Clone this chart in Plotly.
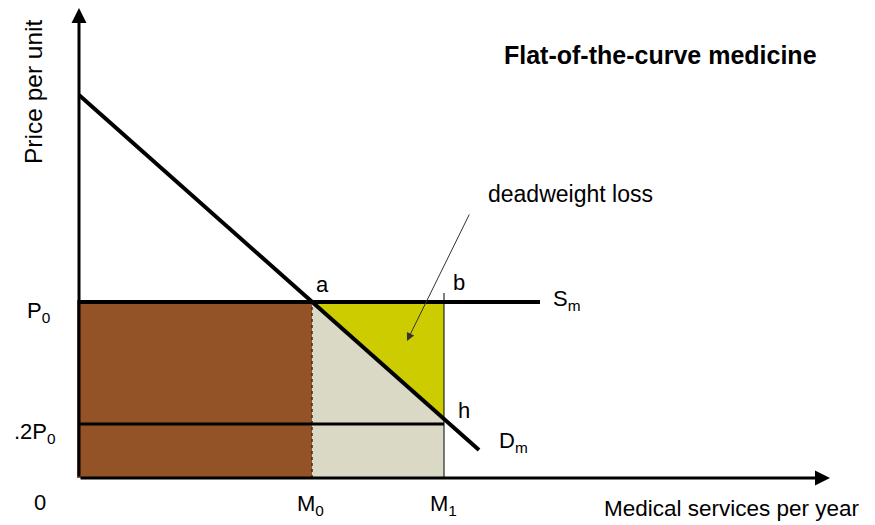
import plotly.graph_objects as go

# quantities / prices (arbitrary units, origin at the axes)
m0 = 233          # M0
m1 = 365          # M1
p0 = 176          # P0 (supply price)
p_low = 54        # .2P0
supply_end = 461

demand_x = [0, 400]
demand_y = [383, 28]

brown_x = [-2, m0, m0, -2]
brown_y = [0, 0, 178, 178]
beige_x = [m0, m1, m1, m0]
beige_y = [0, 0, p0, p0]
dwl_x = [m0, m1, m1]          # a, b, h
dwl_y = [p0, p0, 59]

x_axis_end = 751
y_axis_end = 470

FONT = "Liberation Sans, Arial, sans-serif"

fig = go.Figure()

def poly(xs, ys, color):
    fig.add_trace(go.Scatter(x=xs, y=ys, fill="toself", fillcolor=color,
                             mode="lines", line=dict(width=0), hoverinfo="skip"))

def seg(xs, ys, width, color="black", dash=None):
    fig.add_trace(go.Scatter(x=xs, y=ys, mode="lines", hoverinfo="skip",
                             line=dict(width=width, color=color, dash=dash)))

poly(brown_x, brown_y, "#945326")
poly(beige_x, beige_y, "#D9D9C6")
poly(dwl_x, dwl_y, "#CCCC00")

seg([m0, m0], [0, 178], 1.5, "#4a2a10", "dot")
seg([m1, m1], [0, 185], 1)
seg([0, m1], [p_low, p_low], 3)
seg([0, supply_end], [p0, p0], 4)
seg(demand_x, demand_y, 4)

# axes with arrow heads
for x, y in [(x_axis_end, 0), (0, y_axis_end)]:
    fig.add_annotation(x=x, y=y, ax=0, ay=0, axref="x", ayref="y", xref="x", yref="y",
                       showarrow=True, arrowhead=2, arrowsize=1, arrowwidth=3,
                       arrowcolor="black", text="")

# deadweight loss pointer
fig.add_annotation(x=328, y=137, ax=391, ay=265, axref="x", ayref="y",
                   showarrow=True, arrowhead=2, arrowsize=1.6, arrowwidth=1,
                   arrowcolor="#333333", text="")

labels = [
    ("a", 243, 194),
    ("b", 380, 196),
    ("h", 385, 68),
    ("D<sub>m</sub>", 434, 36),
    ("S<sub>m</sub>", 488, 178),
    ("P<sub>0</sub>", -41, 166),
    (".2P<sub>0</sub>", -44, 45),
    ("0", -39, -24),
    ("M<sub>0</sub>", 231, -27),
    ("M<sub>1</sub>", 364, -27),
]
for text, x, y in labels:
    fig.add_annotation(x=x, y=y, text=text, showarrow=False, xanchor="center",
                       yanchor="middle", font=dict(family=FONT, size=22, color="black"))

fig.add_annotation(x=491, y=284, text="deadweight loss", showarrow=False,
                   xanchor="center", yanchor="middle",
                   font=dict(family=FONT, size=23, color="black"))
fig.add_annotation(x=783, y=-30, text="Medical services per year", showarrow=False,
                   xanchor="right", yanchor="middle",
                   font=dict(family=FONT, size=22.5, color="black"))
fig.add_annotation(x=-46, y=386, text="Price per unit", showarrow=False, textangle=-90,
                   xanchor="center", yanchor="middle",
                   font=dict(family=FONT, size=24.5, color="black"))
fig.add_annotation(x=581, y=423, text="<b>Flat-of-the-curve medicine</b>", showarrow=False,
                   xanchor="center", yanchor="middle",
                   font=dict(family=FONT, size=25, color="black"))

# the page body has an 8px margin, so the ranges are shifted to compensate
fig.update_layout(
    width=875, height=525,
    margin=dict(l=0, r=0, t=0, b=0),
    paper_bgcolor="white", plot_bgcolor="white",
    showlegend=False,
    xaxis=dict(range=[-71, 804], visible=False, fixedrange=True),
    yaxis=dict(range=[-55, 470], visible=False, fixedrange=True),
)

fig.write_html("out.html")
